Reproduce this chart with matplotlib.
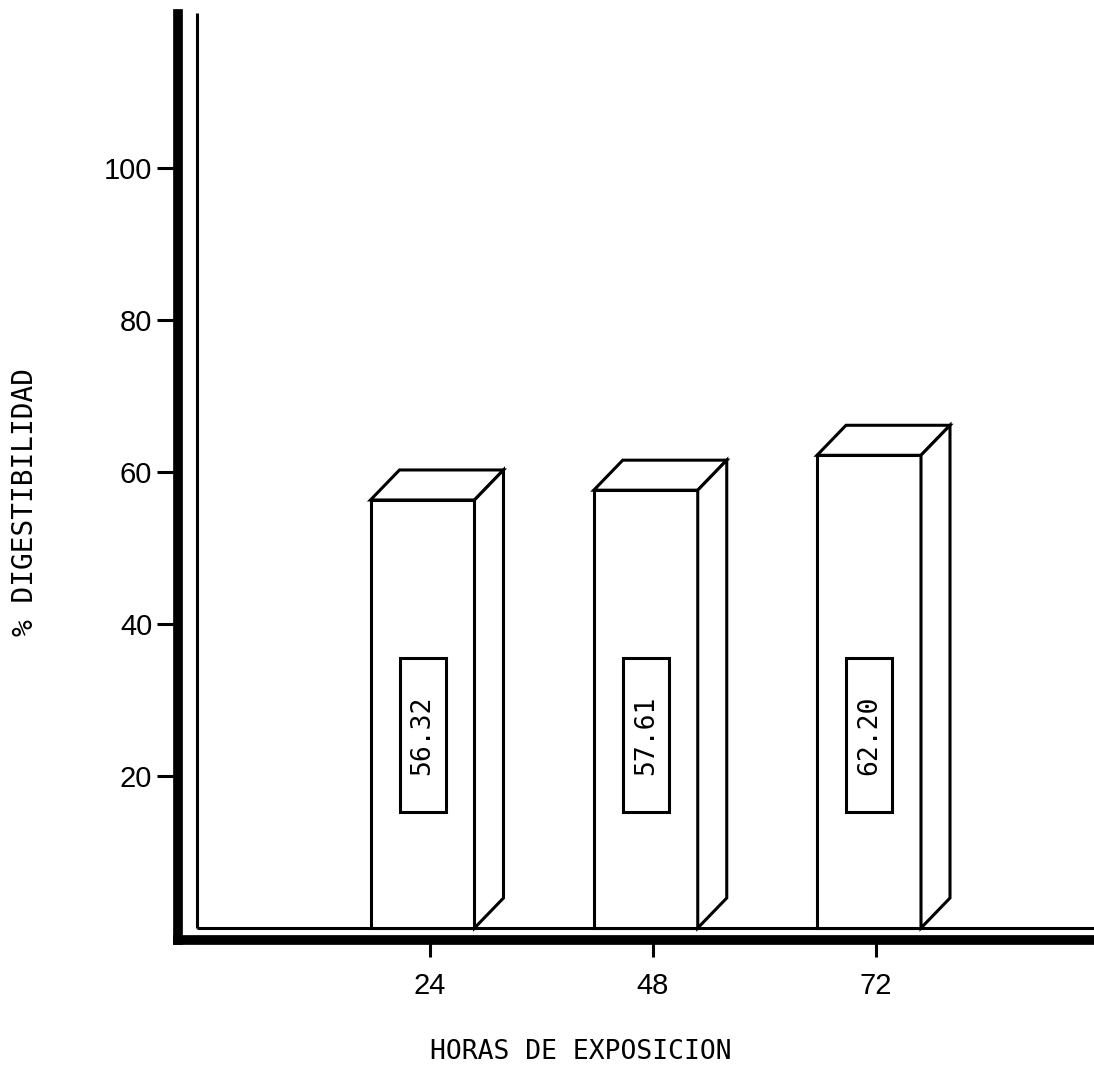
import numpy as np
import matplotlib
matplotlib.use('Agg')
import matplotlib.pyplot as plt
from matplotlib.patches import Polygon, Rectangle

hours = ['24', '48', '72']
digest = [56.32, 57.61, 62.20]
value_labels = ['56.32', '57.61', '62.20']
yticks = [20, 40, 60, 80, 100]

num_font = ['Liberation Sans', 'DejaVu Sans']
mono_font = ['DejaVu Sans Mono']

W, H = 1094, 1069
fig = plt.figure(figsize=(W / 100, H / 100), dpi=100)
# axes box in pixels: left 178, right 1094, top 14, bottom 940
ax = fig.add_axes([178 / W, (H - 940) / H, (W - 178) / W, (940 - 14) / H])

# data scale: 0 at pixel 928, 7.6 px per unit; bars 223.25 px apart
ppu_y = 7.6
ppu_x = 223.25
ax.set_ylim((928 - 940) / ppu_y, (928 - 14) / ppu_y)
ax.set_xlim((178 - 422.5) / ppu_x, (1094 - 422.5) / ppu_x)

bar_w = 104 / ppu_x
dx = 29 / ppu_x
dy = 30 / ppu_y
lw = 2.2

pos = np.arange(len(hours))
for x, h, lab in zip(pos, digest, value_labels):
    x0 = x - bar_w / 2
    x1 = x + bar_w / 2
    ax.add_patch(Rectangle((x0, 0), bar_w, h, facecolor='white', edgecolor='black',
                           lw=lw, joinstyle='miter', zorder=3))
    ax.add_patch(Polygon([(x0, h), (x0 + dx, h + dy), (x1 + dx, h + dy), (x1, h)],
                         closed=True, facecolor='white', edgecolor='black',
                         lw=lw, joinstyle='miter', zorder=3))
    ax.add_patch(Polygon([(x1, 0), (x1 + dx, dy), (x1 + dx, h + dy), (x1, h)],
                         closed=True, facecolor='white', edgecolor='black',
                         lw=lw, joinstyle='miter', zorder=3))
    # value box on the front face
    bw = 46 / ppu_x
    ax.add_patch(Rectangle((x - bw / 2, 15.3), bw, 20.2, facecolor='white',
                           edgecolor='black', lw=lw, zorder=4))
    ax.text(x, 25.4, lab, rotation=90, ha='center', va='center', fontsize=19,
            family=mono_font, zorder=5)

# inner double lines of the frame
x_inner = (197 - 422.5) / ppu_x
ax.plot([x_inner, x_inner], [0, (928 - 13) / ppu_y], color='black', lw=2.2,
        solid_capstyle='butt', zorder=2, clip_on=False)
ax.plot([x_inner, ax.get_xlim()[1]], [0, 0], color='black', lw=2.2,
        solid_capstyle='butt', zorder=2)

for s in ['top', 'right']:
    ax.spines[s].set_visible(False)
for s in ['left', 'bottom']:
    ax.spines[s].set_linewidth(7)
    ax.spines[s].set_capstyle('projecting')

ax.set_yticks(yticks)
ax.set_yticklabels([str(v) for v in yticks], family=num_font, fontsize=21)
ax.set_xticks(pos + 7 / ppu_x)
ax.set_xticklabels(hours, family=num_font, fontsize=21)
ax.tick_params(axis='y', length=15, width=2.2, pad=3.5)
ax.tick_params(axis='x', length=12, width=2.2, pad=11)

fig.text(581 / W, 1 - 1052 / H, 'HORAS DE EXPOSICION', ha='center', va='center',
         fontsize=19, family=mono_font)
fig.text(25 / W, 1 - 502 / H, '% DIGESTIBILIDAD', ha='center', va='center',
         rotation=90, fontsize=20, family=mono_font)

fig.savefig('out.png', dpi=100, facecolor='white')
